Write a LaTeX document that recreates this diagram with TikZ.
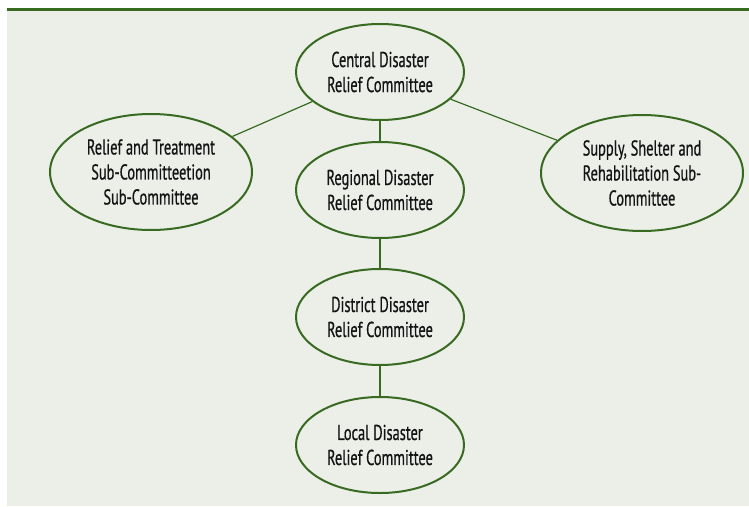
\documentclass[tikz,border=0pt]{standalone}
\usepackage{fontspec}
\setmainfont{PT Sans}[FakeStretch=0.67, FakeBold=0.6]
\usetikzlibrary{shapes.geometric}
\definecolor{panelbg}{RGB}{236,239,232}
\definecolor{darkgreen}{RGB}{56,106,34}
\definecolor{inktext}{RGB}{20,20,20}
\begin{document}
\begin{tikzpicture}[x=1pt, y=-1pt]
		\tikzset{cmt/.style={ellipse, draw=darkgreen, line width=2pt, inner sep=0pt,
				minimum width=168pt, minimum height=96pt, align=center, text=inktext,
				font=\fontsize{21.5}{25}\selectfont}};
		\tikzset{sub/.style={cmt, minimum width=202pt, minimum height=116pt}};
		\tikzset{link/.style={draw=darkgreen, line width=1.2pt}};

		\useasboundingbox (0, 0) rectangle (749, 506);
		\fill[panelbg] (7, 9) rectangle (749, 506);
		\fill[darkgreen] (7, 8) rectangle (749, 11);

		\node[cmt] (central) at (380, 72) {Central Disaster\\Relief Committee};
		\node[sub] (relief) at (151, 172) {Relief and Treatment\\Sub-Committeetion\\Sub-Committee};
		\node[sub] (supply) at (642, 173) {Supply, Shelter and\\Rehabilitation Sub-\\Committee};
		\node[cmt] (regional) at (380, 190) {Regional Disaster\\Relief Committee};
		\node[cmt] (district) at (380, 317) {District Disaster\\Relief Committee};
		\node[cmt] (local) at (380, 445) {Local Disaster\\Relief Committee};

		\draw[link] (central) to (relief);
		\draw[link] (central) to (supply);
		\draw[link] (central) to (regional);

		\draw[link] (regional) to (district);

		\draw[link] (district) to (local);
	\end{tikzpicture}
\end{document}
